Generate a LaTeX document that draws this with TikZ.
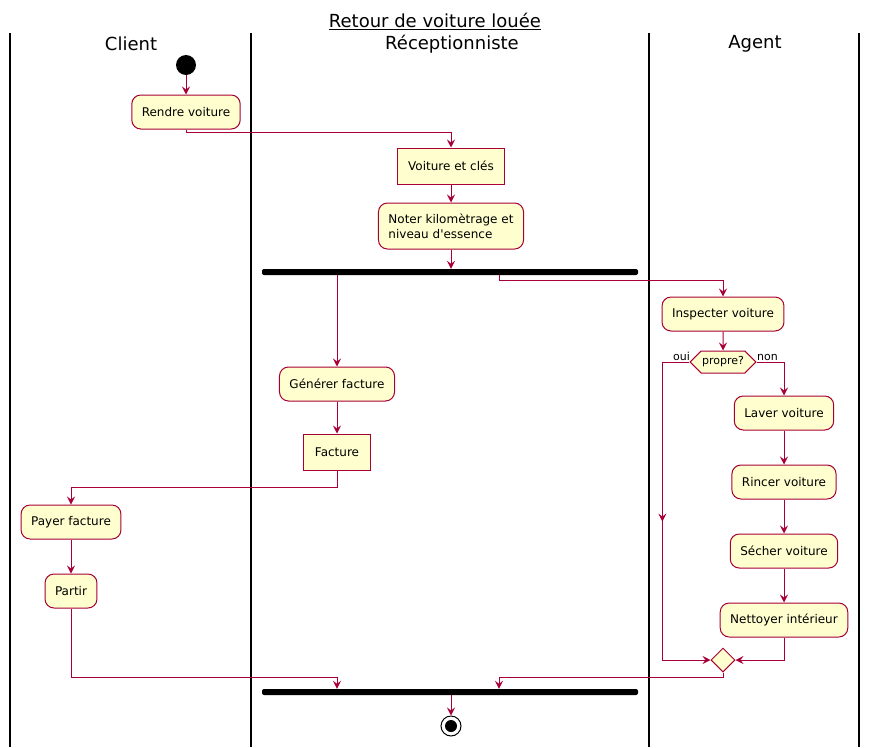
\documentclass[tikz,border=0pt]{standalone}
\usepackage{fontspec}
\setmainfont{DejaVu Sans}
\usetikzlibrary{positioning,arrows.meta,shapes.geometric,shapes.symbols,decorations.markings}
\definecolor{umlred}{HTML}{A80036}
\definecolor{umlfill}{HTML}{FEFECE}
\begin{document}
\begin{tikzpicture}[x=1pt, y=-1pt,
  act/.style={draw=umlred,fill=umlfill,line width=1pt,rounded corners=9pt,minimum height=34pt,inner xsep=10pt,font=\fontsize{12}{15}\selectfont},
  obj/.style={draw=umlred,fill=umlfill,line width=1pt,minimum height=36pt,inner xsep=11pt,font=\fontsize{12}{15}\selectfont},
  bar/.style={fill=black,minimum width=376pt,minimum height=6pt,inner sep=0pt,rounded corners=2pt},
  arr/.style={-{Stealth[length=8pt,width=8pt,inset=3pt]},draw=umlred,line width=1pt},
  lane/.style={line width=1.5pt},
  hdr/.style={font=\fontsize{18}{20}\selectfont},
  small/.style={font=\fontsize{11}{13}\selectfont,inner sep=1pt}]
              \useasboundingbox (0,0) rectangle (870,747);
              \draw[lane] (10,33) -- (10,747);
              \draw[lane] (251,33) -- (251,747);
              \draw[lane] (649,33) -- (649,747);
              \draw[lane] (859,33) -- (859,747);

              \node[hdr] (title) at (435,21) {\underline{Retour de voiture louée}};
              \node[hdr] (client) at (131,44) {Client};
              \node[hdr] (recep) at (452,44) {Réceptionniste};
              \node[hdr] (agent) at (755,44) {Agent};

              \node[circle,fill=black,minimum size=20pt,inner sep=0pt] (start) at (186,65) {};
              \node[act] (rendre) at (186,112) {Rendre voiture};
              \node[obj] (cles) at (451,166) {Voiture et clés};
              \node[act,align=left,minimum height=46pt] (noter) at (451,226) {Noter kilomètrage et\\niveau d\textquotesingle essence};
              \node[bar] (fork) at (450,272) {};
              \node[act] (generer) at (337,384) {Générer facture};
              \node[obj] (facture) at (337,452) {Facture};
              \node[act] (payer) at (71,522) {Payer facture};
              \node[act] (partir) at (71,591) {Partir};

              \node[act] (inspect) at (723,314) {Inspecter voiture};
              \node[signal,signal to=east and west,draw=umlred,fill=umlfill,line width=1pt,minimum width=65pt,minimum height=22pt,inner sep=1pt,font=\fontsize{11}{13}\selectfont] (propre) at (723,362) {propre?};
              \node[small,anchor=south east] (oui) at (691,362) {oui};
              \node[small,anchor=south west] (non) at (756,362) {non};
              \node[act] (laver) at (784,413) {Laver voiture};
              \node[act] (rincer) at (784,482) {Rincer voiture};
              \node[act] (secher) at (784,551) {Sécher voiture};
              \node[act] (nettoyer) at (784,620) {Nettoyer intérieur};
              \node[diamond,draw=umlred,fill=umlfill,line width=1pt,minimum size=24pt,inner sep=0pt] (merge) at (723,660) {};

              \node[bar] (join) at (450,692) {};
              \node[circle,draw=black,fill=white,line width=1pt,minimum size=20pt,inner sep=0pt] (stop) at (451,726) {};
              \node[circle,fill=black,minimum size=12pt,inner sep=0pt] (stopdot) at (stop) {};

              \draw[arr] (start) -- (rendre);
              \draw[arr] (rendre.south) -- ++(0,3) -| (cles.north);
              \draw[arr] (cles) -- (noter);
              \draw[arr] (noter.south) -- (noter.south |- fork.north);
              \draw[arr] (fork.south -| generer.north) -- (generer.north);
              \draw[arr] ([xshift=49pt]fork.south) -- ++(0,5) -| (inspect.north);
              \draw[arr] (generer) -- (facture);
              \draw[arr] (facture.south) -- ++(0,17) -| (payer.north);
              \draw[arr] (payer) -- (partir);
              \draw[arr] (partir.south) -- ++(0,69) -| (join.north -| generer.south);

              \draw[arr] (inspect) -- (propre);
              \draw[arr,postaction={decorate},decoration={markings,mark=at position 0.5 with {\arrow{Stealth[length=8pt,width=8pt,inset=3pt]}}}] (propre.west) -- ++(-27,0) |- (merge.west);
              \draw[arr] (propre.east) -| (laver.north);
              \draw[arr] (laver) -- (rincer);
              \draw[arr] (rincer) -- (secher);
              \draw[arr] (secher) -- (nettoyer);
              \draw[arr] (nettoyer.south) |- (merge.east);
              \draw[arr] (merge.south) -- ++(0,5) -| ([xshift=49pt]join.north);
              \draw[arr] (join.south -| stop.north) -- (stop.north);
            \end{tikzpicture}
\end{document}
